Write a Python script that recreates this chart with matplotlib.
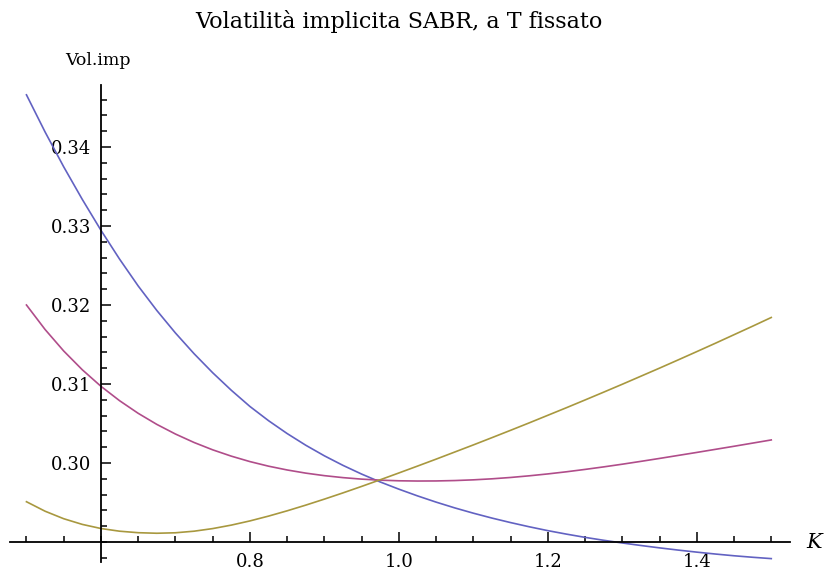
import numpy as np
import matplotlib
matplotlib.use("Agg")
import matplotlib.pyplot as plt
from matplotlib.ticker import MultipleLocator, FixedLocator

plt.rcParams['font.family'] = ['DejaVu Serif']

# strike K
K = [0.500, 0.525, 0.550, 0.575, 0.600, 0.625, 0.650, 0.675, 0.700, 0.725,
     0.750, 0.775, 0.800, 0.825, 0.850, 0.875, 0.900, 0.925, 0.950, 0.975,
     1.000, 1.025, 1.050, 1.075, 1.100, 1.125, 1.150, 1.175, 1.200, 1.225,
     1.250, 1.275, 1.300, 1.325, 1.350, 1.375, 1.400, 1.425, 1.450, 1.475,
     1.500]

# volatilita' implicita, tre set di parametri
vol_blue = [0.34660, 0.34190, 0.33749, 0.33336, 0.32946, 0.32581, 0.32241,
            0.31931, 0.31646, 0.31384, 0.31143, 0.30921, 0.30716, 0.30536,
            0.30373, 0.30225, 0.30091, 0.29970, 0.29860, 0.29760, 0.29669,
            0.29584, 0.29505, 0.29432, 0.29365, 0.29303, 0.29246, 0.29193,
            0.29144, 0.29100, 0.29059, 0.29022, 0.28988, 0.28956, 0.28926,
            0.28898, 0.28872, 0.28848, 0.28826, 0.28807, 0.28790]
vol_magenta = [0.32000, 0.31690, 0.31418, 0.31180, 0.30971, 0.30789, 0.30629,
               0.30489, 0.30367, 0.30260, 0.30167, 0.30087, 0.30018, 0.29960,
               0.29912, 0.29872, 0.29840, 0.29815, 0.29796, 0.29783, 0.29775,
               0.29772, 0.29773, 0.29778, 0.29787, 0.29800, 0.29817, 0.29838,
               0.29862, 0.29889, 0.29919, 0.29951, 0.29985, 0.30021, 0.30058,
               0.30096, 0.30134, 0.30173, 0.30212, 0.30252, 0.30292]
vol_yellow = [0.29510, 0.29390, 0.29295, 0.29223, 0.29171, 0.29137, 0.29118,
              0.29111, 0.29117, 0.29137, 0.29170, 0.29214, 0.29267, 0.29328,
              0.29395, 0.29467, 0.29543, 0.29622, 0.29704, 0.29788, 0.29874,
              0.29961, 0.30049, 0.30139, 0.30229, 0.30321, 0.30414, 0.30508,
              0.30604, 0.30700, 0.30798, 0.30897, 0.30997, 0.31099, 0.31201,
              0.31305, 0.31410, 0.31516, 0.31624, 0.31732, 0.31842]

x_ticks = [0.8, 1.0, 1.2, 1.4]
y_ticks = [0.30, 0.31, 0.32, 0.33, 0.34]

fig = plt.figure(figsize=(8.26, 5.74), dpi=100)
ax = fig.add_axes([0.0121, 0.0213, 0.944, 0.830])

ax.plot(K, vol_blue, color='#6262c2', lw=1.2)
ax.plot(K, vol_magenta, color='#b04d8a', lw=1.2)
ax.plot(K, vol_yellow, color='#a8983f', lw=1.2)

ax.set_xlim(0.4779, 1.5248)
ax.set_ylim(0.2875, 0.3478)

# assi incrociati in (0.6, 0.29), stile Mathematica
ax.spines['left'].set_position(('data', 0.6))
ax.spines['bottom'].set_position(('data', 0.29))
ax.spines['top'].set_visible(False)
ax.spines['right'].set_visible(False)
for s in ('left', 'bottom'):
    ax.spines[s].set_linewidth(1.3)

ax.xaxis.set_major_locator(FixedLocator(x_ticks))
ax.xaxis.set_minor_locator(MultipleLocator(0.05))
ax.yaxis.set_major_locator(FixedLocator(y_ticks))
ax.yaxis.set_minor_locator(MultipleLocator(0.002))
ax.set_xticklabels(['%.1f' % v for v in x_ticks])
ax.set_yticklabels(['%.2f' % v for v in y_ticks])

ax.tick_params(which='both', direction='in', width=1.1, labelsize=13)
ax.tick_params(which='major', length=7)
ax.tick_params(axis='y', which='major', pad=7)
ax.tick_params(axis='x', which='major', pad=8)
ax.tick_params(which='minor', length=4)

fig.text(0.483, 0.962, 'Volatilità implicita SABR, a T fissato',
         ha='center', va='center', fontsize=16)
ax.annotate('Vol.imp', xy=(0.6, 1), xycoords=('data', 'axes fraction'),
            xytext=(-3, 25), textcoords='offset pixels',
            ha='center', va='center', fontsize=12.5)
ax.annotate('K', xy=(1, 0.29), xycoords=('axes fraction', 'data'),
            xytext=(24, 0), textcoords='offset pixels',
            ha='center', va='center', fontsize=15, style='italic')

fig.savefig('out.png', dpi=100)
